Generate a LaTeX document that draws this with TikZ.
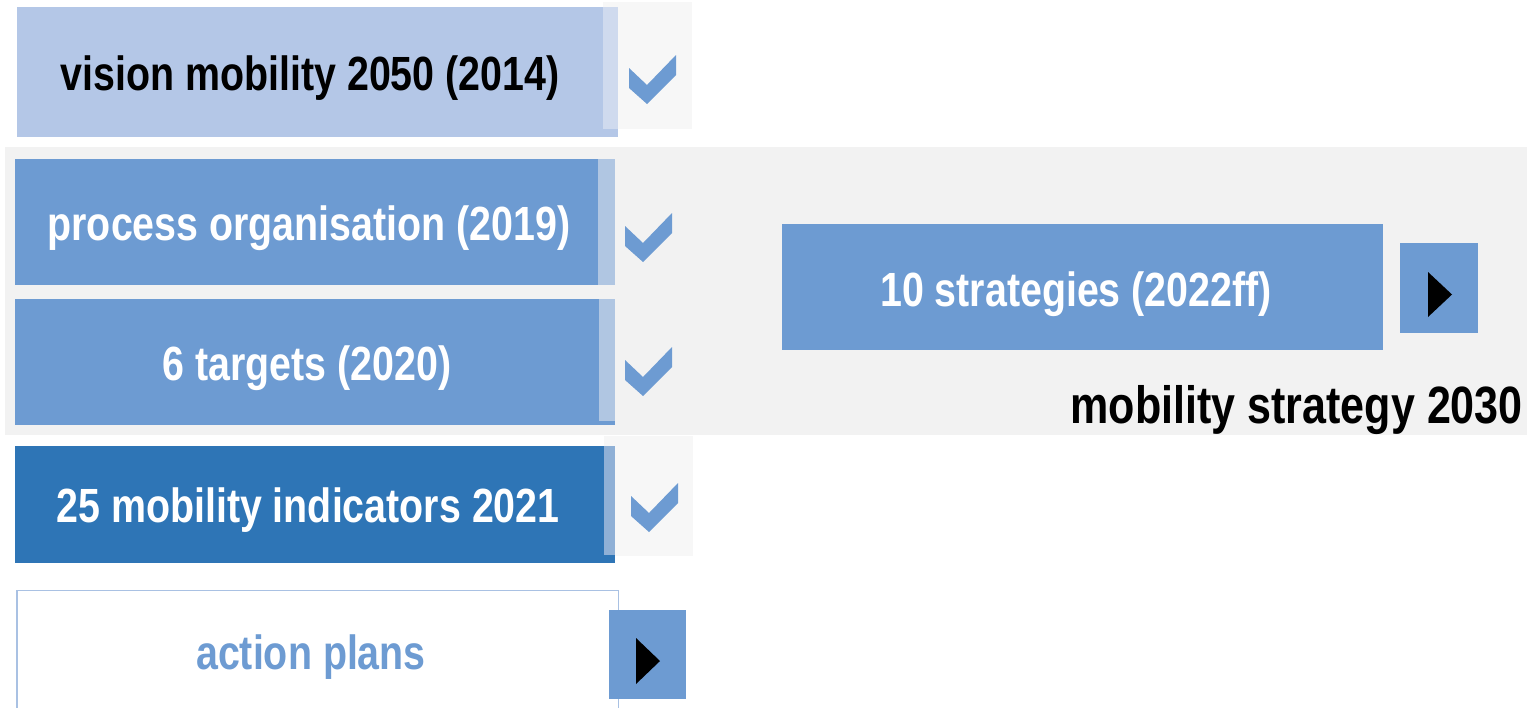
\documentclass[tikz,border=0pt]{standalone}
\usepackage{fontspec}
\setmainfont{Liberation Sans}[FakeStretch=0.82]
\definecolor{lblue}{HTML}{B4C7E7}
\definecolor{mblue}{HTML}{6D9BD2}
\definecolor{dblue}{HTML}{2E75B6}
\definecolor{pgray}{HTML}{F7F7F7}
\definecolor{bgray}{HTML}{F2F2F2}
\definecolor{strip1}{HTML}{CFDAEE}
\definecolor{strip2}{HTML}{B0C6E2}
\definecolor{strip3}{HTML}{8FB0D6}
\definecolor{bordc}{HTML}{A9C1E3}
\tikzset{
  lbl/.style={font=\fontsize{48}{54}\selectfont\bfseries, inner sep=0pt},
  biglbl/.style={font=\fontsize{52.5}{58}\selectfont\bfseries, inner sep=0pt},
  chk/.style={fill=mblue, draw=none},
  playbox/.style={fill=mblue, draw=none},
  tri/.style={fill=black, draw=none}
}
\newcommand{\checkmk}[2]{%
  \fill[chk] (#1,#2+13) -- (#1+18,#2+30) -- (#1+47,#2) -- (#1+47,#2+20) -- (#1+18,#2+49) -- (#1,#2+33) -- cycle;}
\begin{document}
\begin{tikzpicture}[x=1pt,y=-1pt]
\useasboundingbox (0,0) rectangle (1530,707);
% panels
\fill[pgray] (603,2) rectangle (692,129);
\fill[bgray] (5,147) rectangle (1527,435);
\fill[pgray] (604,436) rectangle (693,556);
% box 1
\fill[lblue] (17,7) rectangle (618,137);
\fill[strip1] (603,7) rectangle (618,129);
\node[lbl, text=black] (vision) at (310,78) {vision mobility 2050 (2014)};
\checkmk{629}{55}
% process
\fill[mblue] (15,159) rectangle (615,285);
\fill[strip2] (598,159) rectangle (615,285);
\node[lbl, text=white] (process) at (309,228) {process organisation (2019)};
\checkmk{625}{213}
% targets
\fill[mblue] (15,299) rectangle (615,425);
\fill[strip2] (599,299) rectangle (615,421);
\node[lbl, text=white] (targets) at (307,368) {6 targets (2020)};
\checkmk{625}{347}
% indicators
\fill[dblue] (15,446) rectangle (615,563);
\fill[strip3] (604,446) rectangle (615,555);
\node[lbl, text=white] (ind) at (308,510) {25 mobility indicators 2021};
\checkmk{631}{483}
% action plans
\draw[bordc, line width=1.2pt] (17,720) -- (17,590.5) -- (618.5,590.5) -- (618.5,720);
\node[lbl, text=mblue] (action) at (311,657) {action plans};
\fill[playbox] (609,610) rectangle (686,699);
\fill[tri] (636,638) -- (660,661) -- (636,684) -- cycle;
% strategies
\fill[mblue] (782,224) rectangle (1383,350);
\node[lbl, text=white] (strat) at (1076,294) {10 strategies (2022ff)};
\fill[playbox] (1400,243) rectangle (1478,333);
\fill[tri] (1428,272) -- (1452,294.5) -- (1428,317) -- cycle;
\node[biglbl, text=black, anchor=east] (ms) at (1523,410) {mobility strategy 2030};
\end{tikzpicture}
\end{document}
